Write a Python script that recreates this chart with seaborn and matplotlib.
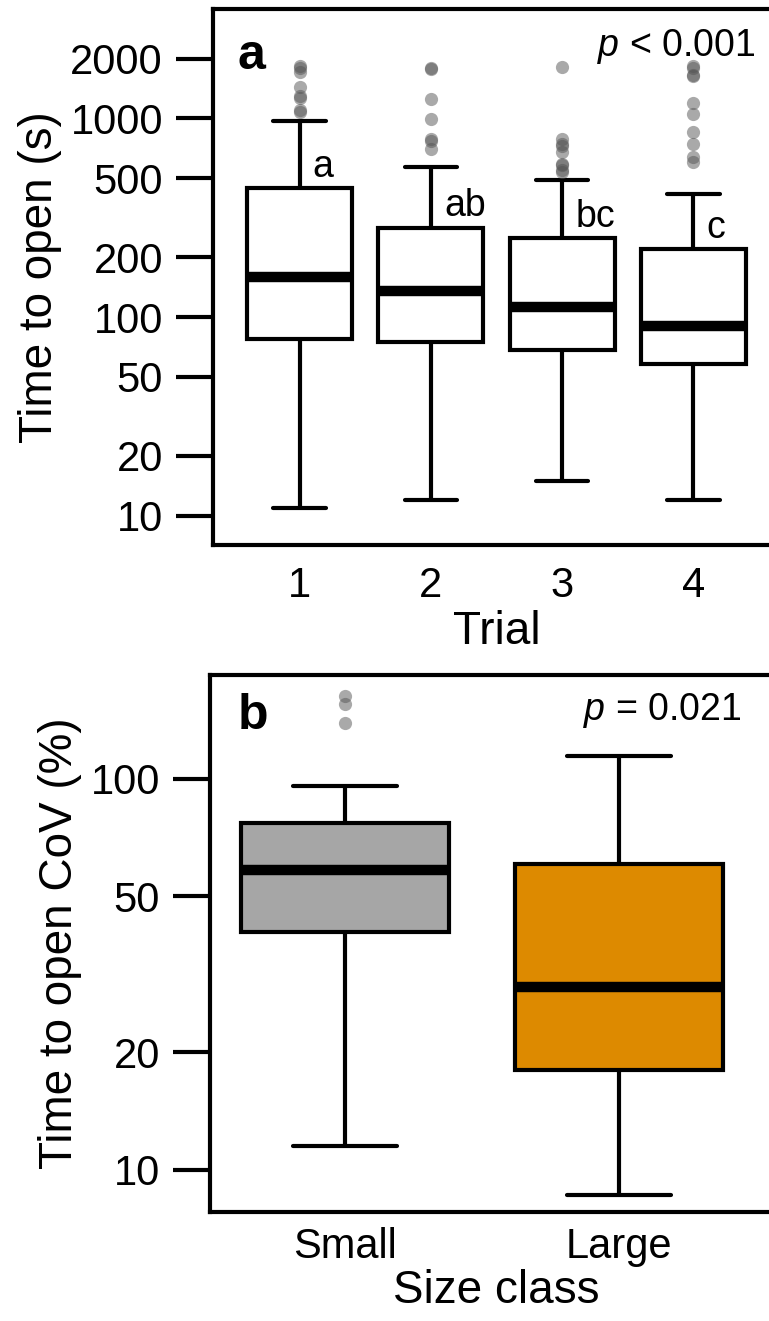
import numpy as np
import pandas as pd
import matplotlib
matplotlib.use("Agg")
import matplotlib.pyplot as plt
import seaborn as sns

# panel a: time to open (s) for each trial
trial_labels = ["1", "2", "3", "4"]
trial1 = [11, 18, 25, 31, 38, 44, 50, 57, 63, 68, 73, 78, 85, 92, 100, 108,
          116, 124, 132, 140, 148, 154, 160, 180, 200, 225, 250, 280, 310,
          340, 370, 400, 425, 444, 520, 700, 975, 1080, 1100, 1270, 1290,
          1430, 1720, 1800, 1830]
trial2 = [12, 19, 26, 33, 40, 46, 52, 58, 63, 68, 72, 75, 80, 86, 92, 98,
          104, 110, 116, 122, 127, 131, 135, 145, 155, 165, 176, 188, 200,
          215, 232, 250, 268, 282, 330, 400, 480, 569, 705, 770, 790, 990,
          1245, 1780, 1800]
trial3 = [15, 21, 27, 33, 39, 44, 49, 54, 58, 62, 65, 68, 72, 76, 80, 84,
          88, 92, 96, 100, 104, 108, 113, 120, 128, 137, 147, 158, 170, 184,
          200, 216, 232, 249, 380, 491, 540, 550, 580, 590, 677, 730, 740,
          783, 1815]
trial4 = [12, 17, 22, 27, 32, 37, 41, 45, 49, 52, 55, 58, 61, 64, 67, 70,
          73, 76, 79, 82, 85, 88, 90, 96, 103, 111, 120, 130, 142, 155, 170,
          186, 203, 220, 416, 600, 640, 740, 850, 1050, 1190, 1640, 1660,
          1800, 1830]
sig_letters = ["a", "ab", "bc", "c"]

# panel b: coefficient of variation (%) by size class
size_labels = ["Small", "Large"]
cov_small = [11.5, 20, 27, 33, 37, 40.5, 45, 49, 53, 56, 58.3, 62, 66, 70,
             74, 76.9, 85, 96, 139, 155, 163]
cov_large = [8.6, 11, 13, 15, 17, 18, 20, 22.5, 25, 27.5, 29.3, 33, 38, 44,
             52, 60.4, 68, 78, 88, 100, 114]
size_colors = ["#a6a6a6", "#dd8a00"]

sns.set_style("ticks")
plt.rcParams["font.family"] = ["Liberation Sans", "DejaVu Sans"]
plt.rcParams["mathtext.fontset"] = "custom"
plt.rcParams["mathtext.it"] = "Liberation Sans:italic"
plt.rcParams["mathtext.rm"] = "Liberation Sans"
plt.rcParams["text.color"] = "black"
plt.rcParams["axes.labelcolor"] = "black"
plt.rcParams["xtick.color"] = "black"
plt.rcParams["ytick.color"] = "black"
plt.rcParams["axes.edgecolor"] = "black"

df_a = pd.DataFrame({
    "trial": np.repeat(trial_labels, [len(t) for t in (trial1, trial2, trial3, trial4)]),
    "time": trial1 + trial2 + trial3 + trial4,
})
df_b = pd.DataFrame({
    "size": np.repeat(size_labels, [len(cov_small), len(cov_large)]),
    "cov": cov_small + cov_large,
})

lw = 3
box_kws = dict(
    linecolor="black", linewidth=lw, saturation=1,
    medianprops=dict(linewidth=7.5, solid_capstyle="butt"),
    whiskerprops=dict(linewidth=lw),
    capprops=dict(linewidth=lw, solid_capstyle="round"),
    flierprops=dict(marker="o", markerfacecolor=(0.33, 0.33, 0.33, 0.5),
                    markeredgecolor="none", markersize=9.5),
)

W, H = 769, 1321
fig = plt.figure(figsize=(W / 100, H / 100), dpi=100)
ax1 = fig.add_axes([213 / W, 1 - 545 / H, (780 - 213) / W, (545 - 9) / H])
ax2 = fig.add_axes([210 / W, 1 - 1212 / H, (782 - 210) / W, (1212 - 675) / H])

# ---- panel a
sns.boxplot(data=df_a, x="trial", y="time", color="white", width=0.8,
            ax=ax1, **box_kws)
ax1.set_yscale("log")
ax1.set_xlim(-0.66, 3.66)
ax1.set_ylim(7.13, 3550)
ax1.set_yticks([10, 20, 50, 100, 200, 500, 1000, 2000])
ax1.set_yticklabels(["10", "20", "50", "100", "200", "500", "1000", "2000"])
ax1.minorticks_off()
ax1.set_xlabel("Trial", fontsize=33, labelpad=3)
ax1.set_ylabel("Time to open (s)", fontsize=33, labelpad=6)
for i, vals in enumerate((trial1, trial2, trial3, trial4)):
    q3 = np.percentile(vals, 75)
    ax1.text(i + 0.1, q3 * 1.28, sig_letters[i], ha="left", va="center",
             fontsize=27)
ax1.text(0.044, 0.888, "a", transform=ax1.transAxes, fontsize=36,
         fontweight="bold", ha="left", va="baseline")
ax1.text(0.956, 0.912, r"$p$ < 0.001", transform=ax1.transAxes, fontsize=27,
         ha="right", va="baseline")

# ---- panel b
sns.boxplot(data=df_b, x="size", y="cov", hue="size", palette=size_colors,
            width=0.76, legend=False, ax=ax2, **box_kws)
ax2.set_yscale("log")
ax2.set_xlim(-0.494, 1.597)
ax2.set_ylim(7.8, 184)
ax2.set_yticks([10, 20, 50, 100])
ax2.set_yticklabels(["10", "20", "50", "100"])
ax2.minorticks_off()
ax2.set_xlabel("Size class", fontsize=33, labelpad=1)
ax2.set_ylabel("Time to open CoV (%)", fontsize=33, labelpad=6)
ax2.text(0.048, 0.9, "b", transform=ax2.transAxes, fontsize=36,
         fontweight="bold", ha="left", va="baseline")
ax2.text(0.93, 0.916, r"$p$ = 0.021", transform=ax2.transAxes, fontsize=27,
         ha="right", va="baseline")

for ax in (ax1, ax2):
    for s in ax.spines.values():
        s.set_linewidth(lw)
        s.set_visible(True)
    ax.tick_params(axis="y", length=27, width=lw, pad=9, labelsize=30)
ax1.tick_params(axis="x", length=0, pad=15, labelsize=30)
ax2.tick_params(axis="x", length=0, pad=11, labelsize=30)

fig.savefig("out.png", dpi=100)
